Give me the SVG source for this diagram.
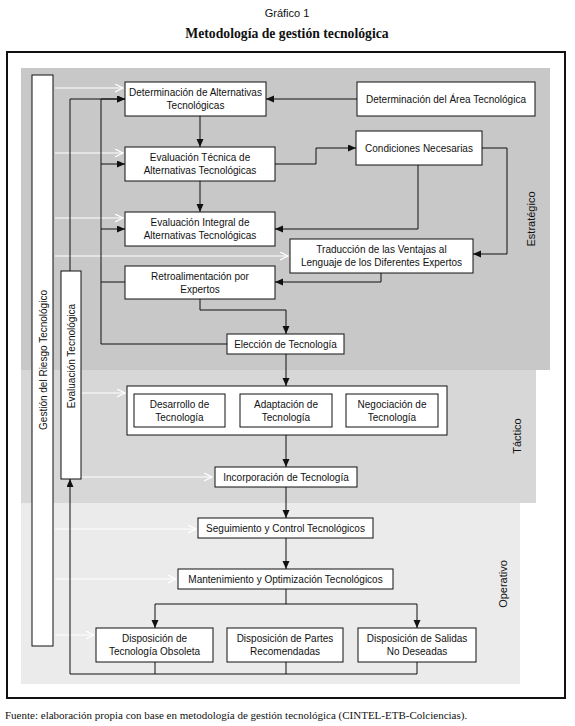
<svg xmlns="http://www.w3.org/2000/svg" width="575" height="726" viewBox="0 0 575 726">
<style>
.box{fill:#fff;stroke:#111;stroke-width:1}
.t{font-family:"Liberation Sans",Arial,sans-serif;font-size:10px;fill:#111;text-anchor:middle}
.lbl{font-family:"Liberation Sans",Arial,sans-serif;font-size:11px;fill:#111;text-anchor:middle}
.ln{fill:none;stroke:#111;stroke-width:1}
.wl{fill:none;stroke:#ffffff;stroke-width:1.2}
</style>
<defs>
<marker id="ah" markerUnits="userSpaceOnUse" markerWidth="9" markerHeight="8" refX="8" refY="3.5" orient="auto"><path d="M0,0 L8,3.5 L0,7 z" fill="#111"/></marker>
<marker id="wh" markerUnits="userSpaceOnUse" markerWidth="10" markerHeight="10" refX="8" refY="4" orient="auto"><path d="M0,0 L8,4 L0,8" fill="none" stroke="#ffffff" stroke-width="1.2"/></marker>
</defs>
<rect width="575" height="726" fill="#fff"/>
<text x="287" y="17" style="font-family:'Liberation Sans',Arial,sans-serif;font-size:11px;fill:#111;text-anchor:middle">Gráfico 1</text>
<text x="287" y="38" style="font-family:'Liberation Serif','Times New Roman',serif;font-size:13.7px;font-weight:bold;fill:#111;text-anchor:middle">Metodología de gestión tecnológica</text>
<rect x="7" y="52" width="558" height="646" fill="#fff" stroke="#111" stroke-width="2"/>
<g id="regions">
<rect x="21" y="68" width="529" height="302" fill="#c8c8c8"/>
<rect x="21" y="370" width="515" height="133" fill="#d7d7d7"/>
<rect x="21" y="503" width="499" height="181" fill="#ebebeb"/>
<text class="lbl" transform="translate(535,219) rotate(-90)">Estratégico</text>
<text class="lbl" transform="translate(521,436) rotate(-90)">Táctico</text>
<text class="lbl" transform="translate(507,584) rotate(-90)">Operativo</text>
</g>
<g id="gestion-riesgo"><rect class="box" x="32" y="75" width="21" height="571"/><text class="t" transform="translate(46.5,360) rotate(-90)">Gestión del Riesgo Tecnológico</text></g>
<g id="evaluacion-tec"><rect class="box" x="61" y="271" width="20" height="208"/><text class="t" transform="translate(75,356) rotate(-90)">Evaluación Tecnológica</text></g>
<g id="connectors">
<path class="wl" marker-end="url(#wh)" d="M55,88 H123"/>
<path class="wl" marker-end="url(#wh)" d="M55,153 H123"/>
<path class="wl" marker-end="url(#wh)" d="M55,218 H123"/>
<path class="wl" marker-end="url(#wh)" d="M55,256 H288"/>
<path class="wl" marker-end="url(#wh)" d="M82,393 H125"/>
<path class="wl" marker-end="url(#wh)" d="M82,477 H212"/>
<path class="wl" marker-end="url(#wh)" d="M55,529 H196"/>
<path class="wl" marker-end="url(#wh)" d="M55,579 H176"/>
<path class="wl" marker-end="url(#wh)" d="M55,635 H94"/>
<path class="ln" marker-end="url(#ah)" d="M357,99 H266"/>
<path class="ln" marker-end="url(#ah)" d="M227,344 H101 V99 H125"/>
<path class="ln" marker-end="url(#ah)" d="M70,271 V99 H125"/>
<path class="ln" marker-end="url(#ah)" d="M101,164 H125"/>
<path class="ln" marker-end="url(#ah)" d="M101,229 H125"/>
<path class="ln" d="M125,282 H101"/>
<path class="ln" marker-end="url(#ah)" d="M200,116 V147"/>
<path class="ln" marker-end="url(#ah)" d="M200,181 V212"/>
<path class="ln" marker-end="url(#ah)" d="M275,164 H316 V148 H356"/>
<path class="ln" marker-end="url(#ah)" d="M418,165 V229 H275"/>
<path class="ln" marker-end="url(#ah)" d="M482,148 H507 V254 H473"/>
<path class="ln" marker-end="url(#ah)" d="M381,273 V282 H275"/>
<path class="ln" marker-end="url(#ah)" d="M200,299 V310 H286 V334"/>
<path class="ln" marker-end="url(#ah)" d="M286,354 V386"/>
<path class="ln" marker-end="url(#ah)" d="M286,435 V467"/>
<path class="ln" marker-end="url(#ah)" d="M286,487 V518"/>
<path class="ln" marker-end="url(#ah)" d="M286,538 V569"/>
<path class="ln" d="M286,589 V604 M155,604 H417"/>
<path class="ln" marker-end="url(#ah)" d="M155,604 V628"/>
<path class="ln" marker-end="url(#ah)" d="M417,604 V628"/>
<path class="ln" d="M155,662 V674 M286,662 V674"/>
<path class="ln" marker-end="url(#ah)" d="M417,662 V674 H70 V479"/>
</g>
<g id="det-alt"><rect class="box" x="125" y="82" width="141" height="34"/><text class="t" x="195.5" y="96">Determinación de Alternativas</text><text class="t" x="195.5" y="109">Tecnológicas</text></g>
<g id="det-area"><rect class="box" x="357" y="82" width="178" height="34"/><text class="t" x="446" y="103">Determinación del Área Tecnológica</text></g>
<g id="eval-tec"><rect class="box" x="125" y="147" width="150" height="34"/><text class="t" x="200" y="161">Evaluación Técnica de</text><text class="t" x="200" y="174">Alternativas Tecnológicas</text></g>
<g id="condiciones"><rect class="box" x="356" y="131" width="126" height="34"/><text class="t" x="419" y="152">Condiciones Necesarias</text></g>
<g id="eval-int"><rect class="box" x="125" y="212" width="150" height="34"/><text class="t" x="200" y="226">Evaluación Integral de</text><text class="t" x="200" y="239">Alternativas Tecnológicas</text></g>
<g id="traduccion"><rect class="box" x="290" y="239" width="183" height="34"/><text class="t" x="381.5" y="253">Traducción de las Ventajas al</text><text class="t" x="381.5" y="266">Lenguaje de los Diferentes Expertos</text></g>
<g id="retro"><rect class="box" x="125" y="266" width="150" height="33"/><text class="t" x="200" y="280">Retroalimentación por</text><text class="t" x="200" y="293">Expertos</text></g>
<g id="eleccion"><rect class="box" x="227" y="334" width="117" height="20"/><text class="t" x="285.5" y="348">Elección de Tecnología</text></g>
<g id="tactico"><rect class="box" x="127" y="386" width="320" height="49"/>
<rect class="box" x="134" y="394" width="91" height="33"/><text class="t" x="179.5" y="408">Desarrollo de</text><text class="t" x="179.5" y="421">Tecnología</text>
<rect class="box" x="240" y="394" width="92" height="33"/><text class="t" x="286" y="408">Adaptación de</text><text class="t" x="286" y="421">Tecnología</text>
<rect class="box" x="346" y="394" width="92" height="33"/><text class="t" x="392" y="408">Negociación de</text><text class="t" x="392" y="421">Tecnología</text></g>
<g id="incorporacion"><rect class="box" x="215" y="467" width="142" height="20"/><text class="t" x="286" y="481">Incorporación de Tecnología</text></g>
<g id="seguimiento"><rect class="box" x="198" y="518" width="175" height="20"/><text class="t" x="285.5" y="532">Seguimiento y Control Tecnológicos</text></g>
<g id="mantenimiento"><rect class="box" x="178" y="569" width="215" height="20"/><text class="t" x="285.5" y="583">Mantenimiento y Optimización Tecnológicos</text></g>
<g id="disp-obs"><rect class="box" x="96" y="628" width="117" height="34"/><text class="t" x="154.5" y="642">Disposición de</text><text class="t" x="154.5" y="655">Tecnología Obsoleta</text></g>
<g id="disp-partes"><rect class="box" x="227" y="628" width="116" height="34"/><text class="t" x="285" y="642">Disposición de Partes</text><text class="t" x="285" y="655">Recomendadas</text></g>
<g id="disp-salidas"><rect class="box" x="358" y="628" width="118" height="34"/><text class="t" x="417" y="642">Disposición de Salidas</text><text class="t" x="417" y="655">No Deseadas</text></g>
<text x="5" y="719" style="font-family:'Liberation Serif','Times New Roman',serif;font-size:11px;fill:#111">Fuente: elaboración propia con base en metodología de gestión tecnológica (CINTEL-ETB-Colciencias).</text>
</svg>
